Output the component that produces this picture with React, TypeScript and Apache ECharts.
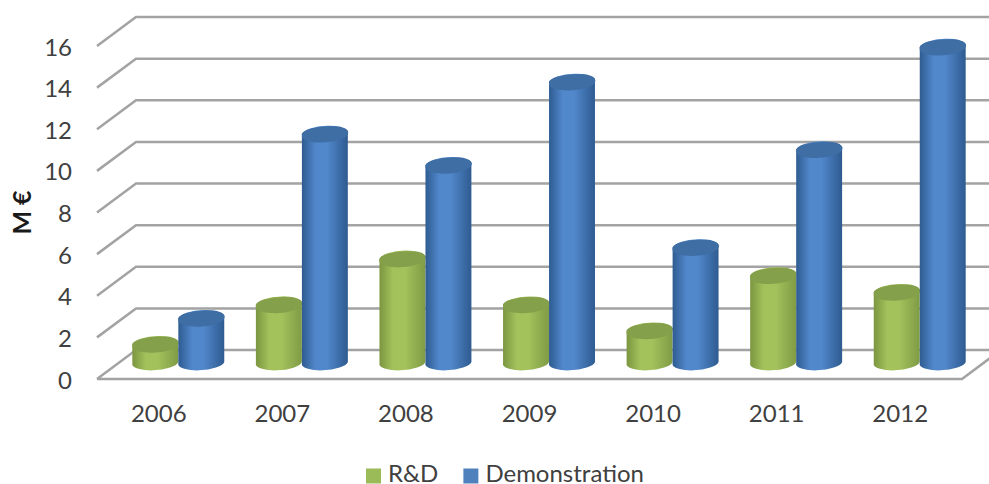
import React, { useEffect, useRef } from "react";
import * as echarts from "echarts";

const categories = ["2006", "2007", "2008", "2009", "2010", "2011", "2012"];
const rdValues = [0.85, 2.75, 4.95, 2.75, 1.5, 4.15, 3.35];
const demoValues = [2.1, 10.95, 9.45, 13.45, 5.5, 10.2, 15.13];
const gridTicks = [0, 2, 4, 6, 8, 10, 12, 14, 16];

const DEPTH_X = 39;
const DEPTH_Y = 29;
const MID_Y = 17;
const RX = 23;
const RY = 7.5;
const TILT = 3.5;
const FONT = "Lato";
const TEXT = "#404040";
const LINE = "#a3a3a3";
const LEGEND_ICON = "path://M0 -8L15 -8L15 -8Z M0 0L15 0L15 15L0 15Z";

function grad(edgeL: string, mid: string, edgeR: string) {
  return new echarts.graphic.LinearGradient(0, 0, 1, 0, [
    { offset: 0, color: edgeL },
    { offset: 0.3, color: mid },
    { offset: 0.55, color: mid },
    { offset: 1, color: edgeR },
  ]);
}

function cylinder(offset: number, body: () => any, topColor: string) {
  return (_params: any, api: any) => {
    const idx = api.value(0);
    const top = api.coord([idx, api.value(1)]);
    const base = api.coord([idx, 0]);
    const cx = top[0] + offset;
    const yt = top[1] - MID_Y;
    const yb = base[1] - MID_Y;
    const dy = RX * Math.sin((TILT * Math.PI) / 180);
    const dx = RX * Math.cos((TILT * Math.PI) / 180);
    const arc = `A ${RX} ${RY} ${-TILT} 0 0`;
    const bodyPath =
      `M ${cx - dx} ${yt + dy} L ${cx - dx} ${yb + dy} ${arc} ${cx + dx} ${yb - dy} ` +
      `L ${cx + dx} ${yt - dy} ${arc} ${cx - dx} ${yt + dy} Z`;
    const topPath =
      `M ${cx - dx} ${yt + dy} ${arc} ${cx + dx} ${yt - dy} ${arc} ${cx - dx} ${yt + dy} Z`;
    return {
      type: "group",
      children: [
        { type: "path", shape: { pathData: bodyPath }, style: { fill: body() } },
        { type: "path", shape: { pathData: topPath }, style: { fill: topColor } },
      ],
    };
  };
}

export default function App() {
  const ref = useRef<HTMLDivElement>(null);
  useEffect(() => {
    document.body.style.margin = "0";
    const chart = echarts.init(ref.current!, null, { renderer: "svg" });
    chart.setOption({
      animation: false,
      backgroundColor: "#ffffff",
      grid: { left: 97, right: 27, top: 46, bottom: 105, containLabel: false, outerBoundsMode: "none" },
      legend: {
        left: 366,
        top: 460,
        padding: 0,
        data: ["R&D", "Demonstration"],
        icon: LEGEND_ICON,
        itemWidth: 15,
        itemHeight: 23,
        itemGap: 25,
        selectedMode: false,
        textStyle: { fontFamily: FONT, fontSize: 24, color: TEXT, padding: [0, 0, 0, 2], lineHeight: 20 },
      },
      xAxis: {
        type: "category",
        data: categories,
        axisLine: { show: false },
        axisTick: { show: false },
        splitLine: { show: false },
        axisLabel: { fontFamily: FONT, fontSize: 24, color: TEXT, margin: 21 },
      },
      yAxis: {
        type: "value",
        min: 0,
        max: 16,
        interval: 2,
        name: "M €",
        nameLocation: "middle",
        nameRotate: 90,
        nameGap: 64,
        nameTextStyle: { fontFamily: FONT, fontSize: 25, fontWeight: "bold", color: "#1a1a1a" },
        axisLine: { show: false },
        axisTick: { show: false },
        splitLine: { show: false },
        axisLabel: { fontFamily: FONT, fontSize: 24, color: TEXT, margin: 25 },
      },
      series: [
        {
          type: "custom",
          silent: true,
          z: 1,
          clip: false,
          data: gridTicks.map((t) => [0, t]),
          renderItem: (params: any, api: any) => {
            const y = api.coord([0, api.value(1)])[1];
            const cs = params.coordSys;
            const x0 = cs.x;
            const x1 = cs.x + cs.width;
            const points: number[][] = [
              [x0, y],
              [x0 + DEPTH_X, y - DEPTH_Y],
              [x1 + DEPTH_X, y - DEPTH_Y],
            ];
            if (api.value(1) === 0) {
              points.push([x1, y], [x0, y]);
            }
            return {
              type: "polyline",
              shape: { points },
              style: { stroke: LINE, lineWidth: 2.5, fill: "none" },
            };
          },
        },
        {
          name: "R&D",
          type: "custom",
          z: 2,
          silent: true,
          itemStyle: { color: "#9bbb59" },
          data: rdValues.map((v, i) => [i, v]),
          renderItem: cylinder(-3.5, () => grad("#7b9640", "#a4c25c", "#7f9b45"), "#84a04a"),
        },
        {
          name: "Demonstration",
          type: "custom",
          z: 3,
          silent: true,
          itemStyle: { color: "#4f81bd" },
          data: demoValues.map((v, i) => [i, v]),
          renderItem: cylinder(42.5, () => grad("#2e5b90", "#5187cb", "#2e5b90"), "#3f6ea5"),
        },
      ],
    });
    return () => chart.dispose();
  }, []);
  return <div ref={ref} style={{ width: 989, height: 484 }} />;
}
